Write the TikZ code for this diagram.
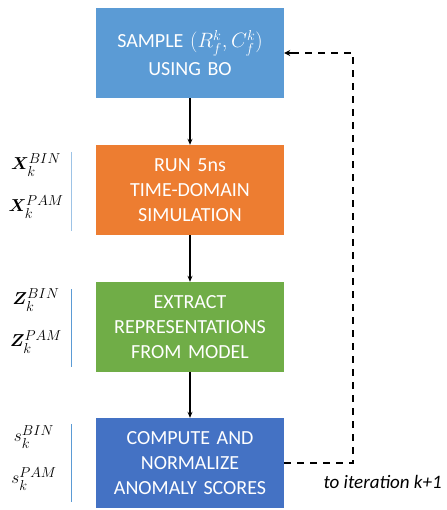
\documentclass[tikz,border=0pt]{standalone}
\usepackage{fontspec}
\usepackage{amsmath,bm}
\setmainfont{Carlito}
\usetikzlibrary{arrows.meta}
\definecolor{cA}{HTML}{5B9BD5}
\definecolor{cB}{HTML}{ED7D31}
\definecolor{cC}{HTML}{70AD47}
\definecolor{cD}{HTML}{4472C4}
\definecolor{sep}{HTML}{9DC3E6}
\tikzset{
  stepbox/.style={minimum width=188pt,minimum height=90pt,text width=186pt,align=center,
    text=white,font=\fontsize{20}{25}\selectfont,inner sep=0pt},
  flow/.style={-{Stealth[length=6pt,width=5pt]},line width=1.3pt},
  loopline/.style={line width=1.8pt,dash pattern=on 7pt off 6pt},
  lab/.style={font=\fontsize{19}{21}\selectfont,inner sep=0pt},
  sepline/.style={sep,line width=1pt}
}
\begin{document}
\begin{tikzpicture}[x=1pt,y=-1pt]
\useasboundingbox (0,0) rectangle (446,510);
\node[stepbox,fill=cA,font=\fontsize{20}{28}\selectfont] (b1) at (190,53) {SAMPLE $(R_f^k,C_f^k)$\\USING BO};
\node[stepbox,fill=cB] (b2) at (190,190) {RUN 5ns\\TIME-DOMAIN\\SIMULATION};
\node[stepbox,fill=cC] (b3) at (190,327) {EXTRACT\\REPRESENTATIONS\\FROM MODEL};
\node[stepbox,fill=cD] (b4) at (190,463) {COMPUTE AND\\NORMALIZE\\ANOMALY SCORES};
\draw[flow] (b1) -- (b2);
\draw[flow] (b2) -- (b3);
\draw[flow] (b3) -- (b4);
\coordinate (c1) at (353,463);
\coordinate (c2) at (353,53);
\draw[loopline] (b4.east) -- (c1) -- (c2) -- ([xshift=9pt]b1.east);
\draw[-{Stealth[length=6pt,width=6pt]},line width=1.3pt] ([xshift=10pt]b1.east) -- (b1.east);
\node[font=\itshape\fontsize{19}{21}\selectfont,anchor=west] (it) at (320,482) {to iteration k+1};
% labels
\node[lab] (x1) at (36,165) {$\bm{X}_k^{BIN}$};
\node[lab] (x2) at (36,207) {$\bm{X}_k^{PAM}$};
\draw[sepline] (71,152) -- (71,231);
\node[lab] (z1) at (36,300) {$\bm{Z}_k^{BIN}$};
\node[lab] (z2) at (36,342) {$\bm{Z}_k^{PAM}$};
\draw[sepline,cA] (71,289) -- (71,367);
\node[lab] (s1) at (34,437) {$s_k^{BIN}$};
\node[lab] (s2) at (34,479) {$s_k^{PAM}$};
\draw[sepline,cA] (71,424) -- (71,502);
\end{tikzpicture}
\end{document}
